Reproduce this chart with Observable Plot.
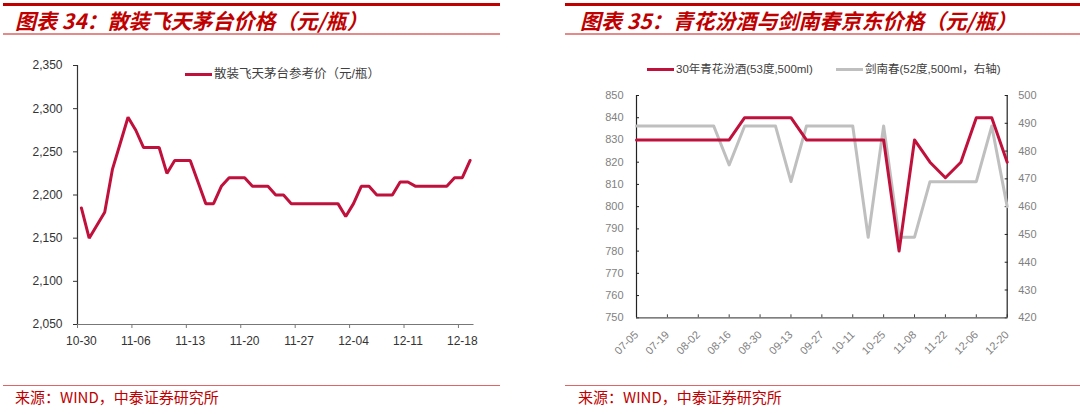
<!DOCTYPE html>
<html><head><meta charset="utf-8">
<script src="https://cdn.jsdelivr.net/npm/d3@7"></script>
<script src="https://cdn.jsdelivr.net/npm/@observablehq/plot@0.6"></script>
<style>
body{margin:0;background:#fff;width:1080px;height:414px;position:relative;overflow:hidden;font-family:"Liberation Sans","Noto Sans CJK SC",sans-serif;}
.abs{position:absolute;}
.topbar{height:3px;background:#c00000;}
.subbar{height:2px;background:#e48a8a;}
.footbar{height:1px;background:#e06666;}
.title{font-family:"Noto Sans CJK SC",sans-serif;font-weight:bold;font-style:italic;color:#c00000;font-size:21px;line-height:21px;white-space:nowrap;}
.foot{color:#c00000;font-size:15px;line-height:15px;font-family:"Noto Sans CJK SC",sans-serif;white-space:nowrap;}
.leg{color:#404040;white-space:nowrap;font-family:"Liberation Sans","Noto Sans CJK SC",sans-serif;}
.sw{display:inline-block;width:27px;height:3px;vertical-align:middle;margin-right:2px;}
</style></head><body>
<div class="abs topbar" style="left:3px;top:3px;width:497px"></div>
<div class="abs title" style="left:15px;top:10px">图表 34：散装飞天茅台价格（元/瓶）</div>
<div class="abs subbar" style="left:3px;top:33px;width:497px"></div>
<div class="abs topbar" style="left:565px;top:3px;width:515px"></div>
<div class="abs title" style="left:580px;top:10px">图表 35：青花汾酒与剑南春京东价格（元/瓶）</div>
<div class="abs subbar" style="left:565px;top:33px;width:515px"></div>

<div id="left" class="abs" style="left:0;top:50px"></div>
<div id="right" class="abs" style="left:560px;top:50px"></div>

<div class="abs leg" style="left:185px;top:66px;font-size:12.5px;line-height:16px"><span class="sw" style="background:#c0103c"></span>散装飞天茅台参考价（元/瓶）</div>
<div class="abs leg" style="left:647px;top:61px;font-size:11.5px;line-height:16px"><span class="sw" style="background:#c0103c"></span>30年青花汾酒(53度,500ml)</div>
<div class="abs leg" style="left:836px;top:61px;font-size:11.5px;line-height:16px"><span class="sw" style="background:#bfbfbf"></span>剑南春(52度,500ml，右轴)</div>

<div class="abs footbar" style="left:3px;top:385px;width:497px"></div>
<div class="abs foot" style="left:15px;top:389px">来源：WIND，中泰证券研究所</div>
<div class="abs footbar" style="left:565px;top:385px;width:515px"></div>
<div class="abs foot" style="left:578px;top:389px">来源：WIND，中泰证券研究所</div>

<script>
// ---- Chart 34 data ----
const mtDates = ["10-30","10-31","11-01","11-02","11-03","11-04","11-05","11-06","11-07","11-08","11-09","11-10","11-11","11-12","11-13","11-14","11-15","11-16","11-17","11-18","11-19","11-20","11-21","11-22","11-23","11-24","11-25","11-26","11-27","11-28","11-29","11-30","12-01","12-02","12-03","12-04","12-05","12-06","12-07","12-08","12-09","12-10","12-11","12-12","12-13","12-14","12-15","12-16","12-17","12-18","12-19"];
const mtPrice = [2185,2150,2165,2180,2230,2260,2290,2275,2255,2255,2255,2225,2240,2240,2240,2215,2190,2190,2210,2220,2220,2220,2210,2210,2210,2200,2200,2190,2190,2190,2190,2190,2190,2190,2175,2190,2210,2210,2200,2200,2200,2215,2215,2210,2210,2210,2210,2210,2220,2220,2240];
const mtTickLabels = ["10-30","11-06","11-13","11-20","11-27","12-04","12-11","12-18"];
const mtYTicks = [2050,2100,2150,2200,2250,2300,2350];

// ---- Chart 35 data ----
const wkDates = ["07-05","07-12","07-19","07-26","08-02","08-09","08-16","08-23","08-30","09-06","09-13","09-20","09-27","10-04","10-11","10-18","10-25","11-01","11-08","11-15","11-22","11-29","12-06","12-13","12-20"];
const fenjiu = [830,830,830,830,830,830,830,840,840,840,840,830,830,830,830,830,830,780,830,820,813,820,840,840,820];
const jiannanchun = [489,489,489,489,489,489,475,489,489,489,469,489,489,489,489,449,489,449,449,469,469,469,469,489,460];
const wkTickLabels = ["07-05","07-19","08-02","08-16","08-30","09-13","09-27","10-11","10-25","11-08","11-22","12-06","12-20"];
const leftTicks35 = [750,760,770,780,790,800,810,820,830,840,850];
const rightTicks35 = [420,430,440,450,460,470,480,490,500];

const RED = "#c0103c", GRAY = "#bfbfbf";
const FONT = "Liberation Sans, Noto Sans CJK SC, sans-serif";

// Chart 34
const mtRows = mtDates.map((d, i) => ({idx: i + 0.5, date: d, v: mtPrice[i]}));
const mtTickIdx = mtTickLabels.map(l => mtDates.indexOf(l));
const mtLabelMap = new Map(mtTickIdx.map((k, j) => [k + 0.5, mtTickLabels[j]]));

const chart34 = Plot.plot({
  width: 520, height: 300,
  marginLeft: 77, marginRight: 46.5, marginTop: 15, marginBottom: 26,
  style: {fontFamily: FONT, fontSize: "12px", color: "#333", background: "transparent", overflow: "visible"},
  x: {domain: [0, mtDates.length]},
  y: {domain: [2050, 2350]},
  marks: [
    Plot.axisY(mtYTicks, {tickSize: 4, tickPadding: 11, tickFormat: d3.format(","), label: null, color: "#333"}),
    Plot.axisX(mtTickIdx, {tickSize: 4, tickFormat: () => "", label: null, color: "#777"}),
    Plot.axisX([...mtLabelMap.keys()], {tickSize: 0, tickPadding: 12, tickFormat: d => mtLabelMap.get(d), label: null, color: "#333"}),
    Plot.ruleY([2050], {stroke: "#777", strokeWidth: 1.2}),
    Plot.ruleX([0], {stroke: "#333", strokeWidth: 1.2}),
    Plot.line(mtRows, {x: "idx", y: "v", stroke: RED, strokeWidth: 3, strokeLinejoin: "miter"})
  ]
});
document.getElementById("left").append(chart34);

// Chart 35
const toLeft = v => 750 + (v - 420) * 100 / 80;
const wkRows = wkDates.map((d, i) => ({k: i, date: d, fj: fenjiu[i], jnc: toLeft(jiannanchun[i])}));
const wkTickIdx = wkTickLabels.map(l => wkDates.indexOf(l));

const chart35 = Plot.plot({
  width: 520, height: 320,
  marginLeft: 76, marginRight: 73.3, marginTop: 45, marginBottom: 52.7,
  style: {fontFamily: FONT, fontSize: "11px", color: "#7f7f7f", background: "transparent", overflow: "visible"},
  x: {domain: [0, wkDates.length - 1]},
  y: {domain: [750, 850]},
  marks: [
    Plot.axisY(leftTicks35, {anchor: "left", tickSize: -3, tickPadding: 16, label: null, color: "#7f7f7f", stroke: "#222"}),
    Plot.axisY(rightTicks35.map(toLeft), {anchor: "right", tickSize: -3, tickPadding: 14, tickFormat: d => String(Math.round(420 + (d - 750) * 0.8)), label: null, color: "#7f7f7f", stroke: "#222"}),
    Plot.axisX(wkTickIdx, {tickSize: -3, tickPadding: 18, tickRotate: -45, tickFormat: d => wkDates[d], label: null, color: "#7f7f7f", stroke: "#444"}),
    Plot.ruleY([750], {stroke: "#555", strokeWidth: 1.2}),
    Plot.ruleX([0], {stroke: "#222", strokeWidth: 1.2}),
    Plot.ruleX([wkDates.length - 1], {stroke: "#222", strokeWidth: 1.2}),
    Plot.line(wkRows, {x: "k", y: "jnc", stroke: GRAY, strokeWidth: 3}),
    Plot.line(wkRows, {x: "k", y: "fj", stroke: RED, strokeWidth: 3})
  ]
});
document.getElementById("right").append(chart35);
</script>
</body></html>
